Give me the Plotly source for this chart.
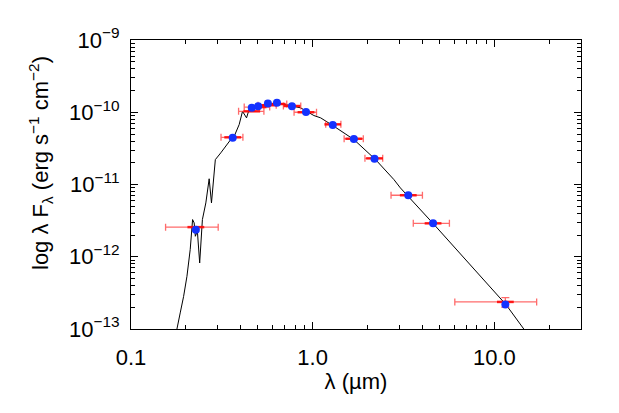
import plotly.graph_objects as go

# ---- photometry (observed = red error bars, model = blue dots) ----
phot_wl = [0.2275, 0.363, 0.462, 0.501, 0.567, 0.636, 0.769, 0.919, 1.29, 1.686, 2.19, 3.36, 4.60, 11.5]
phot_lo = [0.155, 0.313, 0.391, 0.420, 0.500, 0.550, 0.690, 0.790, 1.18, 1.49, 1.94, 2.70, 3.58, 6.06]
phot_hi = [0.302, 0.413, 0.539, 0.580, 0.630, 0.720, 0.860, 1.050, 1.43, 1.90, 2.43, 4.02, 5.66, 17.1]
obs_flux = [2.57e-12, 4.5e-11, 1.03e-10, 1.18e-10, 1.25e-10, 1.30e-10, 1.22e-10, 1.00e-10,
            6.8e-11, 4.3e-11, 2.3e-11, 7.1e-12, 2.9e-12, 2.37e-13]
obs_err_up = [0, 0, 0, 0, 0, 0, 0, 0, 0, 0, 0, 0, 0, 0.35e-13]
obs_err_dn = [0, 0, 0, 0, 0, 0, 0, 0, 0, 0, 0, 0, 0, 0.37e-13]
model_flux = [2.37e-12, 4.42e-11, 1.15e-10, 1.21e-10, 1.32e-10, 1.35e-10, 1.21e-10, 1.01e-10,
              6.68e-11, 4.28e-11, 2.27e-11, 7.08e-12, 2.90e-12, 2.19e-13]

# ---- model spectrum ----
spec_wl = [0.175, 0.179, 0.1866, 0.1948, 0.2032, 0.2118, 0.2183, 0.2227, 0.226, 0.232, 0.2388,
           0.2472, 0.2582, 0.2693, 0.2773, 0.2844, 0.2912, 0.312, 0.354, 0.370, 0.394, 0.411,
           0.4325, 0.4467, 0.5176, 0.64, 0.859, 1.016, 1.107, 1.309, 1.686, 2.22, 2.80, 3.04,
           4.63, 11.6, 14.4, 15.5]
spec_flux = [8.0e-14, 1.0e-13, 1.67e-13, 2.83e-13, 5.36e-13, 1.26e-12, 3.27e-12, 2.94e-12, 1.92e-12,
             2.25e-12, 8.2e-13, 3.27e-12, 5.56e-12, 1.20e-11, 5.56e-12, 1.30e-11, 2.21e-11, 2.74e-11,
             4.19e-11, 4.66e-11, 6.76e-11, 1.03e-10, 8.36e-11, 1.09e-10, 1.24e-10, 1.35e-10, 1.15e-10,
             9.0e-11, 8.36e-11, 6.40e-11, 4.19e-11, 2.21e-11, 1.17e-11, 8.97e-12, 2.84e-12, 2.17e-13,
             1.0e-13, 8.0e-14]

x_ticks = [0.1, 1.0, 10.0]
x_ticktext = ["0.1", "1.0", "10.0"]
y_ticks = [1e-13, 1e-12, 1e-11, 1e-10, 1e-9]
y_ticktext = ["10<sup>\u221213</sup>", "10<sup>\u221212</sup>", "10<sup>\u221211</sup>",
              "10<sup>\u221210</sup>", "10<sup>\u22129</sup>"]

x_minor = [m * 10 ** e for e in (-1, 0, 1) for m in range(2, 10) if m * 10 ** e <= 30]
y_minor = [m * 10.0 ** e for e in (-13, -12, -11, -10) for m in range(2, 10)]

FONT = "Liberation Sans, Arial, Helvetica, sans-serif"

fig = go.Figure()
fig.add_trace(go.Scatter(
    x=spec_wl, y=spec_flux, mode="lines",
    line=dict(color="black", width=1), showlegend=False, cliponaxis=True))

err_x_plus = [h - w for h, w in zip(phot_hi, phot_wl)]
err_x_minus = [w - l for w, l in zip(phot_wl, phot_lo)]
fig.add_trace(go.Scatter(
    x=phot_wl, y=obs_flux, mode="markers",
    marker=dict(symbol="line-ew", size=12, line=dict(color="rgba(255,0,0,0.85)", width=2.5)),
    error_x=dict(type="data", symmetric=False, array=err_x_plus, arrayminus=err_x_minus,
                 color="rgba(255,70,70,0.8)", thickness=1.3, width=3.5),
    error_y=dict(type="data", symmetric=False, array=obs_err_up, arrayminus=obs_err_dn,
                 color="rgba(255,70,70,0.8)", thickness=1.3, width=4),
    showlegend=False))
fig.add_trace(go.Scatter(
    x=phot_wl, y=model_flux, mode="markers",
    marker=dict(symbol="circle", size=8, color="rgb(20,50,255)"),
    showlegend=False))

axis_common = dict(
    showline=True, linecolor="black", linewidth=1.2, mirror="ticks",
    ticks="inside", ticklen=7, tickwidth=1, tickcolor="black",
    showgrid=False, zeroline=False,
    tickfont=dict(family=FONT, size=22, color="black"),
)

fig.update_xaxes(
    type="log", range=[-1, 1.4771], tickvals=x_ticks, ticktext=x_ticktext,
    minor=dict(tickvals=x_minor, ticks="inside", ticklen=4, tickcolor="black", tickwidth=1),
    ticklabelstandoff=8,
    title=dict(text="\u03bb (\u00b5m)", font=dict(family=FONT, size=22, color="black"), standoff=4),
    **axis_common)
fig.update_yaxes(
    type="log", range=[-13, -9], tickvals=y_ticks, ticktext=y_ticktext,
    minor=dict(tickvals=y_minor, ticks="inside", ticklen=4, tickcolor="black", tickwidth=1),
    ticklabelstandoff=6,
    **axis_common)

fig.add_annotation(
    text="log \u03bb F<sub>\u03bb</sub> (erg s<sup>\u22121</sup> cm<sup>\u22122</sup>)",
    xref="paper", yref="paper", x=(40 - 131) / 450, y=(329 - 163) / 289,
    xanchor="center", yanchor="middle", textangle=-90, showarrow=False,
    font=dict(family=FONT, size=22, color="black"))

fig.update_layout(
    width=619, height=413,
    margin=dict(l=131, r=38, t=40, b=84),
    paper_bgcolor="white", plot_bgcolor="white",
)

fig.write_html("out.html")
